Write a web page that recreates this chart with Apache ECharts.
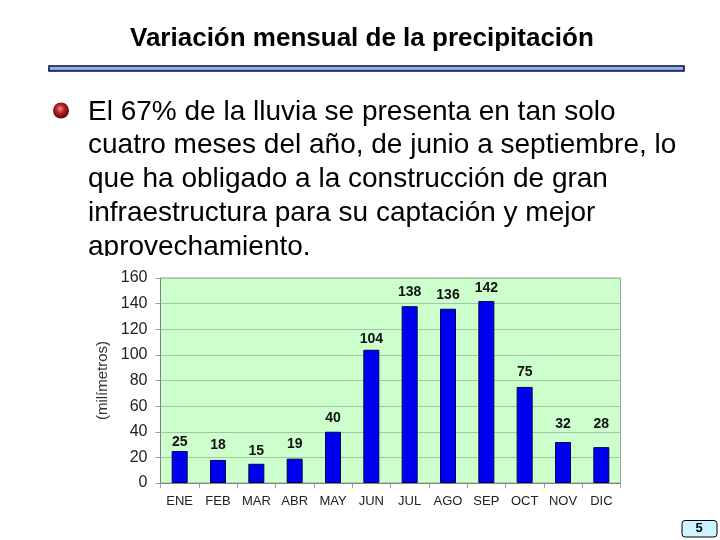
<!DOCTYPE html>
<html>
<head>
    <meta charset="utf-8">
    <title>Variación mensual de la precipitación</title>
    <style>
        html, body { margin: 0; padding: 0; background: #fff; }
    </style>
</head>
<body>
    <div id="main" style="width: 720px;height:540px;"></div>
</body>
<script src="https://cdn.jsdelivr.net/npm/echarts@6/dist/echarts.min.js"></script>
<script>
var months = ['ENE', 'FEB', 'MAR', 'ABR', 'MAY', 'JUN', 'JUL', 'AGO', 'SEP', 'OCT', 'NOV', 'DIC'];
var lluvia = [25, 18, 15, 19, 40, 104, 138, 136, 142, 75, 32, 28];
var bodyLines = [
    'El 67% de la lluvia se presenta en tan solo',
    'cuatro meses del año, de junio a septiembre, lo',
    'que ha obligado a la construcción de gran',
    'infraestructura para su captación y mejor',
    'aprovechamiento.'
];
// los rotulos no estan a la misma distancia de cada barra
var labelDist = [2, 8, 6, 8, 7, 4, 7, 7, 6, 8, 11, 16];

var font = '"Liberation Sans", Arial, sans-serif';
var myChart = echarts.init(document.getElementById('main'), null, { renderer: 'canvas' });

var seriesData = [];
lluvia.forEach(function (v, i) {
    seriesData.push({ value: v, label: { distance: labelDist[i] } });
});

myChart.setOption({
    animation: false,
    backgroundColor: '#fff',
    title: {
        text: 'Variación mensual de la precipitación',
        left: 130,
        top: 26,
        padding: 0,
        textStyle: { color: '#000', fontFamily: font, fontWeight: 700, fontSize: 26 }
    },
    grid: { left: 160.5, right: 99.5, top: 278, bottom: 57, show: true, backgroundColor: '#ccffcc', borderColor: '#9aa69a', borderWidth: 1 },
    xAxis: {
        type: 'category',
        data: months,
        axisLine: { lineStyle: { color: '#808080' } },
        axisTick: { show: true, length: 5, lineStyle: { color: '#a0a0a0' } },
        axisLabel: { color: '#222', fontFamily: font, fontSize: 13, margin: 12 }
    },
    yAxis: {
        type: 'value',
        min: 0,
        max: 160,
        interval: 20,
        name: '(milímetros)',
        nameLocation: 'middle',
        nameGap: 50,
        nameTextStyle: { color: '#333', fontFamily: font, fontSize: 15 },
        axisLine: { show: true, lineStyle: { color: '#808080' } },
        axisTick: { show: true, length: 5, lineStyle: { color: '#a0a0a0' } },
        axisLabel: { color: '#222', fontFamily: font, fontSize: 16, margin: 13 },
        splitLine: { show: true, lineStyle: { color: '#a5c4a5' } }
    },
    series: [{
        type: 'bar',
        data: seriesData,
        barWidth: 16,
        itemStyle: { color: '#0000f0', borderColor: '#000050', borderWidth: 1 },
        label: { show: true, position: 'top', color: '#111', fontFamily: font, fontWeight: 700, fontSize: 14 }
    }],
    graphic: [
        {
            type: 'rect',
            shape: { x: 49, y: 66, width: 635, height: 5 },
            style: {
                fill: new echarts.graphic.LinearGradient(0, 0, 0, 1, [
                    { offset: 0, color: '#b4ccf8' },
                    { offset: 1, color: '#6a90e4' }
                ]),
                stroke: '#0a0a3c',
                lineWidth: 1.5
            }
        },
        {
            type: 'circle',
            shape: { cx: 61, cy: 110.5, r: 8 },
            style: {
                fill: new echarts.graphic.RadialGradient(0.45, 0.4, 0.6, [
                    { offset: 0, color: '#f08a8a' },
                    { offset: 0.45, color: '#b81f25' },
                    { offset: 1, color: '#4a0a0c' }
                ])
            }
        },
        {
            type: 'text',
            z: 1,
            style: {
                x: 88,
                y: 95,
                text: bodyLines.join('\n'),
                fill: '#000',
                font: '28px ' + font,
                lineHeight: 33.8
            }
        },
        // la imagen del grafico tapa el final del parrafo
        {
            type: 'rect',
            z: 2,
            shape: { x: 85, y: 256, width: 560, height: 12 },
            style: { fill: '#fff' }
        },
        {
            type: 'rect',
            shape: { x: 682, y: 520.5, width: 35, height: 16.5, r: 3 },
            style: { fill: '#ccf5ff', stroke: '#000', lineWidth: 1 }
        },
        {
            type: 'text',
            style: {
                x: 699,
                y: 522,
                text: '5',
                align: 'center',
                fill: '#000',
                font: 'bold 13px ' + font
            }
        }
    ]
});
</script>
</html>
